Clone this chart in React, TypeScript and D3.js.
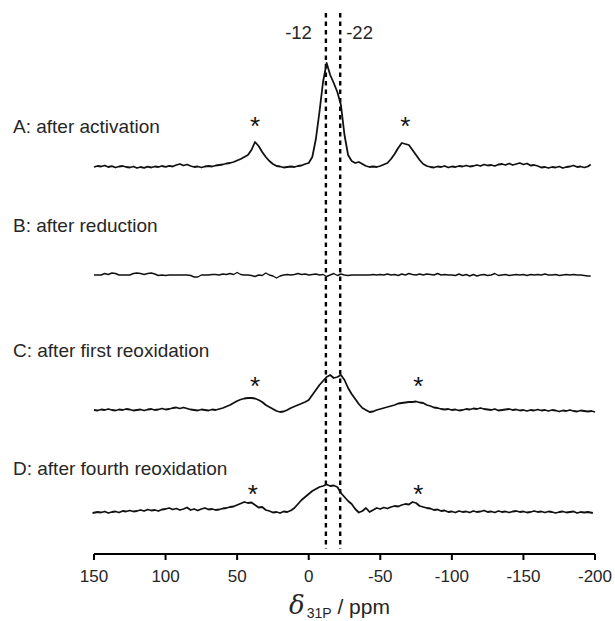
import React from "react";
import * as d3 from "d3";

// ---- data (ppm, intensity above baseline, arbitrary units) ----
const specA: [number, number][] = [
  [150,0],[147.5,1],[145,0.5],[142.5,1.5],[140,0],[137.5,0.8],[135,-0.5],[132.5,0.5],[130,1],[127.5,0],
  [125,-0.5],[122.5,0.5],[120,-1],[117.5,0],[115,-0.8],[112.5,0.3],[110,-0.5],[107.5,0.5],[105,0],[102.5,1],
  [100,0.2],[97.5,1.2],[95,0.5],[92.5,2],[90,3],[87.5,1.5],[85,2.5],[82.5,1],[80,0],[77.5,0.5],
  [75,-0.5],[72.5,0.5],[70,1],[67.5,0.5],[65,1.5],[62.5,2],[60,2.5],[57.5,3.5],[55,4],[52.5,5],
  [50,6.5],[47.5,8],[45,10],[42.5,12],[40,17],[37.5,25],[35,21],[32.5,15],[30,10],[27.5,6],
  [25,3],[22.5,1],[20,0.5],[17.5,-0.5],[15,0],[12.5,0.5],[10,0],[7.5,1],[5,1.5],[2.5,3],
  [0,4],[-2.5,10],[-5,28],[-7.5,55],[-10,85],[-12.5,104],[-15,92],[-17.5,84],[-20,75],[-22.5,62],
  [-25,32],[-27.5,12],[-30,6],[-32.5,4],[-35,5],[-37.5,3],[-40,1],[-42.5,0],[-45,0.5],[-47.5,0],
  [-50,1],[-52.5,2.5],[-55,4],[-57.5,8],[-60,13],[-62.5,19],[-65,24],[-67.5,23],[-70,22],[-72.5,17],
  [-75,12],[-77.5,7],[-80,3],[-82.5,1],[-85,0],[-87.5,-0.5],[-90,0.5],[-92.5,0],[-95,1],[-97.5,-0.5],
  [-100,0.5],[-102.5,0],[-105,1],[-107.5,0.5],[-110,1.5],[-112.5,0.5],[-115,1],[-117.5,2],[-120,1],[-122.5,2.5],
  [-125,1.5],[-127.5,2],[-130,1],[-132.5,2.5],[-135,3],[-137.5,2],[-140,3.5],[-142.5,2],[-145,3],[-147.5,4],
  [-150,2.5],[-152.5,3.5],[-155,1.5],[-157.5,2],[-160,1],[-162.5,-0.5],[-165,0],[-167.5,-1],[-170,0],[-172.5,-0.5],
  [-175,0.5],[-177.5,-1],[-180,0],[-182.5,0.5],[-185,1.5],[-187.5,0],[-190,0.5],[-192.5,-0.5],[-195,0.5],[-197,2.5],
];

const specB: [number, number][] = [
  [150,0],[147.5,0],[145,0],[142.5,1.5],[140,0.5],[137.5,2],[135,1.5],[132.5,0],[130,0],[127.5,0],
  [125,0],[122.5,1.5],[120,2],[117.5,1.5],[115,0.5],[112.5,1.5],[110,2],[107.5,1],[105,-0.5],[102.5,0],
  [100,-0.5],[97.5,0],[95,0],[92.5,0],[90,0],[87.5,0],[85,0],[82.5,-0.5],[80,-2],[77.5,-2],
  [75,0],[72.5,0],[70,0],[67.5,0.5],[65,0.5],[62.5,0],[60,1],[57.5,0.5],[55,1.5],[52.5,0.5],
  [50,2.5],[47.5,0.5],[45,0],[42.5,0],[40,-0.5],[37.5,-1.5],[35,0],[32.5,-0.5],[30,2],[27.5,0],
  [25,-1],[22.5,-3],[20,-1],[17.5,0],[15,0.5],[12.5,0],[10,0.5],[7.5,1.5],[5,0.5],[2.5,1],
  [0,0],[-2.5,0.5],[-5,1],[-7.5,0],[-10,0.5],[-12.5,-1.5],[-15,0],[-17.5,1.5],[-20,-0.5],[-22.5,1],
  [-25,0],[-27.5,-0.5],[-30,0],[-32.5,0],[-35,0],[-37.5,0],[-40,0],[-42.5,0],[-45,0.5],[-47.5,0],
  [-50,0.5],[-52.5,0],[-55,1],[-57.5,0],[-60,0.5],[-62.5,-0.5],[-65,1],[-67.5,0],[-70,1.5],[-72.5,0.5],
  [-75,0],[-77.5,1],[-80,0],[-82.5,1],[-85,0.5],[-87.5,0],[-90,1.5],[-92.5,0],[-95,0.5],[-97.5,0],
  [-100,0],[-102.5,-0.5],[-105,1],[-107.5,-0.5],[-110,0.5],[-112.5,-1],[-115,0.5],[-117.5,-1],[-120,0],[-122.5,0.5],
  [-125,-0.5],[-127.5,0],[-130,1.5],[-132.5,-0.5],[-135,0],[-137.5,0.5],[-140,-0.5],[-142.5,0],[-145,0.5],[-147.5,0],
  [-150,0.5],[-152.5,-0.5],[-155,0.5],[-157.5,0],[-160,0.5],[-162.5,0],[-165,1],[-167.5,0],[-170,0],[-172.5,0.5],
  [-175,-0.5],[-177.5,0],[-180,0.5],[-182.5,0],[-185,0.5],[-187.5,0],[-190,0],[-192.5,-0.5],[-195,-1],[-197,-1],
];

const specC: [number, number][] = [
  [150,0],[147.5,-0.5],[145,0.5],[142.5,0],[140,1],[137.5,0],[135,-0.5],[132.5,0.5],[130,0],[127.5,1],
  [125,0.5],[122.5,-0.5],[120,0],[117.5,0.5],[115,-0.5],[112.5,0.5],[110,1],[107.5,0],[105,0.5],[102.5,1.5],
  [100,0.5],[97.5,1],[95,2],[92.5,2.5],[90,1.5],[87.5,2.5],[85,1.5],[82.5,0.5],[80,0],[77.5,-0.5],
  [75,0.5],[72.5,0],[70,-0.5],[67.5,0.5],[65,0],[62.5,1],[60,2],[57.5,3.5],[55,5],[52.5,7],
  [50,9],[47.5,10.5],[45,11.5],[42.5,12],[40,12],[37.5,11.5],[35,10],[32.5,8],[30,5],[27.5,3],
  [25,1],[22.5,-1],[20,-2],[17.5,-1.5],[15,0],[12.5,2],[10,3.5],[7.5,5],[5,6.5],[2.5,8],
  [0,10],[-2.5,15],[-5,20],[-7.5,25],[-10,29],[-12.5,33],[-15,35],[-17.5,32],[-20,33],[-22.5,35],
  [-25,30],[-27.5,22],[-30,16],[-32.5,11],[-35,6],[-37.5,2],[-40,0],[-42.5,-2],[-45,-1.5],[-47.5,0],
  [-50,1],[-52.5,2],[-55,3],[-57.5,4],[-60,5],[-62.5,6.5],[-65,7],[-67.5,7.5],[-70,8],[-72.5,8],
  [-75,8.5],[-77.5,7.5],[-80,7],[-82.5,5],[-85,4],[-87.5,2.5],[-90,2],[-92.5,1],[-95,0.5],[-97.5,1],
  [-100,0],[-102.5,0.5],[-105,-0.5],[-107.5,0],[-110,1],[-112.5,0.5],[-115,1.5],[-117.5,1],[-120,2],[-122.5,1],
  [-125,0.5],[-127.5,0],[-130,1],[-132.5,-0.5],[-135,0],[-137.5,0.5],[-140,1],[-142.5,0],[-145,0.5],[-147.5,-0.5],
  [-150,0],[-152.5,-1],[-155,0],[-157.5,-0.5],[-160,0.5],[-162.5,-0.5],[-165,0],[-167.5,-1],[-170,0],[-172.5,-0.5],
  [-175,-1.5],[-177.5,-0.5],[-180,-1],[-182.5,0],[-185,-1],[-187.5,-1.5],[-190,-0.5],[-192.5,-1],[-195,-1.5],[-197.5,-1],[-200,-2],
];

const specD: [number, number][] = [
  [151,-1],[147.5,0],[145,-0.5],[142.5,0.5],[140,-1],[137.5,0],[135,0.5],[132.5,-0.5],[130,1],[127.5,0.5],
  [125,1.5],[122.5,0.5],[120,1],[117.5,2],[115,1],[112.5,2.5],[110,1.5],[107.5,2],[105,1],[102.5,2.5],
  [100,3],[97.5,4],[95,2.5],[92.5,3.5],[90,2],[87.5,3],[85,4.5],[82.5,2],[80,3],[77.5,1.5],
  [75,3],[72.5,4],[70,2.5],[67.5,3],[65,2],[62.5,2.5],[60,3.5],[57.5,4],[55,5],[52.5,5.5],
  [50,7],[47.5,8.5],[45,10],[42.5,9],[40,9.5],[37.5,7],[35,4.5],[32.5,5],[30,2],[27.5,1],
  [25,-0.5],[22.5,0],[20,-1],[17.5,0.5],[15,0],[12.5,1.5],[10,4],[7.5,8],[5,12],[2.5,15],
  [0,18],[-2.5,21],[-5,23],[-7.5,25],[-10,26],[-12.5,27.5],[-15,26],[-17.5,26.5],[-20,25],[-22.5,19],
  [-25,15],[-27.5,11],[-30,8],[-32.5,3],[-35,-0.5],[-37.5,1],[-40,4],[-42.5,0],[-45,2],[-47.5,4],
  [-50,3],[-52.5,4.5],[-55,3.5],[-57.5,5],[-60,6],[-62.5,5.5],[-65,7],[-67.5,8],[-70,7.5],[-72.5,10],
  [-75,9],[-77.5,6],[-80,5],[-82.5,4],[-85,3.5],[-87.5,2],[-90,2.5],[-92.5,1],[-95,1.5],[-97.5,0],
  [-100,0.5],[-102.5,-0.5],[-105,1],[-107.5,0],[-110,0.5],[-112.5,-0.5],[-115,1],[-117.5,0],[-120,0.5],[-122.5,1.5],
  [-125,0],[-127.5,0.5],[-130,-0.5],[-132.5,1],[-135,0],[-137.5,0.5],[-140,-0.5],[-142.5,0.5],[-145,1],[-147.5,0],
  [-150,0.5],[-152.5,-0.5],[-155,0],[-157.5,1],[-160,0],[-162.5,0.5],[-165,-0.5],[-167.5,0.5],[-170,0],[-172.5,-1],
  [-175,0],[-177.5,0.5],[-180,-0.5],[-182.5,0],[-185,0.5],[-187.5,-1],[-190,0],[-192.5,-0.5],[-195,0],[-198.5,-1],
];

const seriesLabels = [
  "A: after activation",
  "B: after reduction",
  "C: after first reoxidation",
  "D: after fourth reoxidation",
];

// spinning sideband markers: [ppm, height above baseline]
const starsA: [number, number][] = [[37.5, 47], [-67.5, 47]];
const starsC: [number, number][] = [[37.5, 30], [-76.5, 30]];
const starsD: [number, number][] = [[39, 24], [-76.5, 24]];

const refLines = [-12, -22];
const refLabels = ["-12", "-22"];

const tickValues = [150, 100, 50, 0, -50, -100, -150, -200];
const tickLabels = ["150", "100", "50", "0", "-50", "-100", "-150", "-200"];

export default function App() {
  const W = 615, H = 621;
  const x = d3.scaleLinear().domain([150, -200]).range([94, 595]);
  const amp = d3.scaleLinear().domain([0, 100]).range([0, 100]);
  const baselines = [167, 275, 410, 512];
  const labelY = [133, 232, 357, 475];
  const specs = [specA, specB, specC, specD];
  const stars = [starsA, [], starsC, starsD] as [number, number][][];
  const axisY = 554;
  const font = "'Liberation Sans', Arial, sans-serif";
  const textCol = "#262626";

  return (
    <svg width={W} height={H} style={{ position: "absolute", left: 0, top: 0, background: "#fff" }}>
      <rect width={W} height={H} fill="#fff" />
      {refLines.map((v) => (
        <line key={v} x1={x(v)} x2={x(v)} y1={13} y2={549} stroke="#000" strokeWidth={2.4} strokeDasharray="4.5,4" />
      ))}
      <text x={x(refLines[0]) - 14} y={39} textAnchor="end" fontFamily={font} fontSize={18.5} fill={textCol}>{refLabels[0]}</text>
      <text x={x(refLines[1]) + 6} y={39} textAnchor="start" fontFamily={font} fontSize={18.5} fill={textCol}>{refLabels[1]}</text>

      {specs.map((s, k) => {
        const line = d3.line<[number, number]>()
          .x((d) => x(d[0]))
          .y((d) => baselines[k] - amp(d[1]));
        return (
          <g key={k}>
            <path d={line(s) || ""} fill="none" stroke="#111" strokeWidth={k === 1 ? 1.4 : 1.8} strokeLinejoin="round" />
            <text x={13} y={labelY[k]} fontFamily={font} fontSize={19} fill={textCol}>{seriesLabels[k]}</text>
            {stars[k].map((st, j) => (
              <text key={j} x={x(st[0])} y={baselines[k] - amp(st[1]) + 15} textAnchor="middle" fontFamily={font} fontSize={26} fill="#111">*</text>
            ))}
          </g>
        );
      })}

      <line x1={x(150)} x2={x(-200)} y1={axisY} y2={axisY} stroke="#000" strokeWidth={2} />
      {tickValues.map((t, i) => (
        <g key={t}>
          <line x1={x(t)} x2={x(t)} y1={axisY} y2={axisY + 6} stroke="#000" strokeWidth={2} />
          <text x={x(t)} y={582} textAnchor="middle" fontFamily={font} fontSize={17} fill={textCol}>{tickLabels[i]}</text>
        </g>
      ))}
      <text x={289} y={614} fontFamily={font} fill={textCol}>
        <tspan fontSize={26} fontStyle="italic" fontFamily="'DejaVu Serif', serif">δ</tspan>
        <tspan fontSize={14} dy={4} dx={2}>31P</tspan>
        <tspan fontSize={21} dy={-4}> / ppm</tspan>
      </text>
    </svg>
  );
}
